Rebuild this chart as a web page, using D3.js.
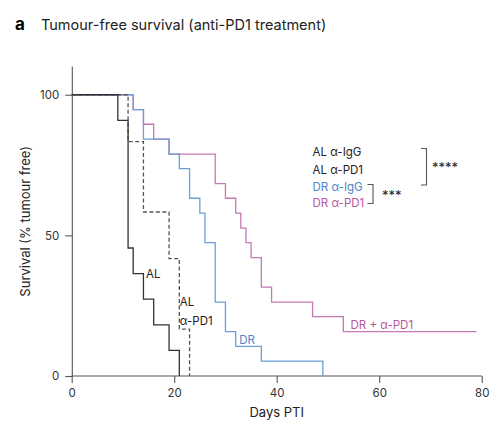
<!DOCTYPE html>
<html>
<head>
<meta charset="utf-8">
<script src="https://cdn.jsdelivr.net/npm/d3@7"></script>
<style>
  body { margin: 0; background: #fff; }
  text { font-family: Inter, "Noto Sans", sans-serif; }
</style>
</head>
<body>
<script>
const width = 500;
const height = 426;

// Kaplan-Meier steps (days PTI, % tumour free)
const alIggDays = [0, 9, 11, 12, 14, 16, 19, 21];
const alIggSurv = [100, 90.9, 45.5, 36.4, 27.3, 18.2, 9.1, 0];

const alPd1Days = [0, 11, 14, 19, 21, 23];
const alPd1Surv = [100, 83.3, 58.3, 41.7, 16.7, 0];

const drIggDays = [0, 12, 14, 19, 21, 23, 25, 26, 28, 30, 32, 37, 49];
const drIggSurv = [100, 94.7, 84.2, 78.9, 73.7, 63.2, 57.9, 47.4, 26.3, 15.8, 10.5, 5.3, 0];

const drPd1Days = [0, 12, 14, 16, 19, 28, 30, 32, 33, 34, 35, 37, 39, 47, 53, 79];
const drPd1Surv = [100, 94.7, 89.5, 84.2, 78.9, 68.4, 63.2, 57.9, 52.6, 47.4, 42.1, 31.6, 26.3, 21.1, 15.8, 15.8];

const xTicks = [0, 20, 40, 60, 80];
const yTicks = [0, 50, 100];

const legendLabels = ['AL α-IgG', 'AL α-PD1', 'DR α-IgG', 'DR α-PD1'];
const legendColors = ['#222', '#222', '#4d86c6', '#b8559f'];

const colBlue = '#6b9fd8';
const colPink = '#c678b4';
const colBlack = '#333';
const colDash = '#555';

const svg = d3.select('body').append('svg')
    .attr('width', width)
    .attr('height', height);

const x = d3.scaleLinear().domain([0, 80]).range([71.7, 481.7]);
const y = d3.scaleLinear().domain([0, 110]).range([376, 66.6]);

// title
svg.append('text').attr('x', 15).attr('y', 30)
    .attr('font-size', 17).attr('font-weight', 700).attr('fill', '#000')
    .text('a');
svg.append('text').attr('x', 41).attr('y', 30)
    .attr('font-size', 14.5).attr('fill', '#222')
    .text('Tumour-free survival (anti-PD1 treatment)');

// axes
const xAxis = svg.append('g')
    .attr('transform', `translate(0,${y(0)})`)
    .call(d3.axisBottom(x).tickValues(xTicks).tickSize(7).tickPadding(6));
const yAxis = svg.append('g')
    .attr('transform', `translate(${x(0) + 0.6},0)`)
    .call(d3.axisLeft(y).tickValues(yTicks).tickSize(7).tickPadding(6));

[xAxis, yAxis].forEach(g => {
    g.select('.domain').attr('stroke', '#555').attr('stroke-width', 1.1);
    g.selectAll('.tick line').attr('stroke', '#555').attr('stroke-width', 1.1);
    g.selectAll('.tick text').attr('font-size', 11.5).attr('fill', '#333')
        .style('font-family', 'Inter, "Noto Sans", sans-serif');
});
// y domain without the end tick
yAxis.select('.domain').attr('d', `M0,${y(110)}V${y(0)}`);
xAxis.select('.domain').attr('d', `M${x(0)},0H${x(80)}`);

svg.append('text')
    .attr('x', x(40)).attr('y', 417)
    .attr('text-anchor', 'middle').attr('font-size', 13).attr('fill', '#222')
    .text('Days PTI');
svg.append('text')
    .attr('transform', `translate(30,${y(55)}) rotate(-90)`)
    .attr('text-anchor', 'middle').attr('font-size', 13).attr('fill', '#222')
    .text('Survival (% tumour free)');

// survival curves
const line = d3.line()
    .x(d => x(d[0]))
    .y(d => y(d[1]))
    .curve(d3.curveStepAfter);

const series = [
    { days: drPd1Days, surv: drPd1Surv, color: colPink, dash: null },
    { days: drIggDays, surv: drIggSurv, color: colBlue, dash: null },
    { days: alPd1Days, surv: alPd1Surv, color: colDash, dash: '4,2.5' },
    { days: alIggDays, surv: alIggSurv, color: colBlack, dash: null }
];

svg.selectAll('path.km')
    .data(series)
    .enter()
    .append('path')
    .attr('class', 'km')
    .attr('d', s => line(s.days.map((d, i) => [d, s.surv[i]])))
    .attr('fill', 'none')
    .attr('stroke', s => s.color)
    .attr('stroke-width', 1.3)
    .attr('stroke-dasharray', s => s.dash);

// curve labels
const curveLabel = (tx, ty, txt, col) => svg.append('text')
    .attr('x', tx).attr('y', ty).attr('dy', '0.35em')
    .attr('font-size', 11.5).attr('fill', col).text(txt);
curveLabel(x(14.5), y(36.4), 'AL', '#222');
curveLabel(x(21.1), y(26.3), 'AL', '#222');
curveLabel(x(21.1), y(19.5), 'α-PD1', '#222');
curveLabel(x(32.7), y(12.9), 'DR', '#4d86c6');
curveLabel(x(54.4), y(18.2), 'DR + α-PD1', '#b8559f');

// legend
const legendY = [152.3, 170, 187, 203.3];
svg.selectAll('text.leg')
    .data(legendLabels)
    .enter()
    .append('text')
    .attr('class', 'leg')
    .attr('x', 312.5)
    .attr('y', (d, i) => legendY[i])
    .attr('dy', '0.35em')
    .attr('font-size', 11.5)
    .attr('fill', (d, i) => legendColors[i])
    .text(d => d);

// significance brackets
svg.append('path')
    .attr('d', 'M421,148.5H426.5V185H421')
    .attr('fill', 'none').attr('stroke', '#555').attr('stroke-width', 1.1);
svg.append('text').attr('x', 432).attr('y', 171.5)
    .attr('font-size', 13).attr('fill', '#222').text('****');
svg.append('path')
    .attr('d', 'M367.5,184.5H373V203.5H367.5')
    .attr('fill', 'none').attr('stroke', '#555').attr('stroke-width', 1.1);
svg.append('text').attr('x', 382).attr('y', 199.5)
    .attr('font-size', 13).attr('fill', '#222').text('***');
</script>
</body>
</html>
